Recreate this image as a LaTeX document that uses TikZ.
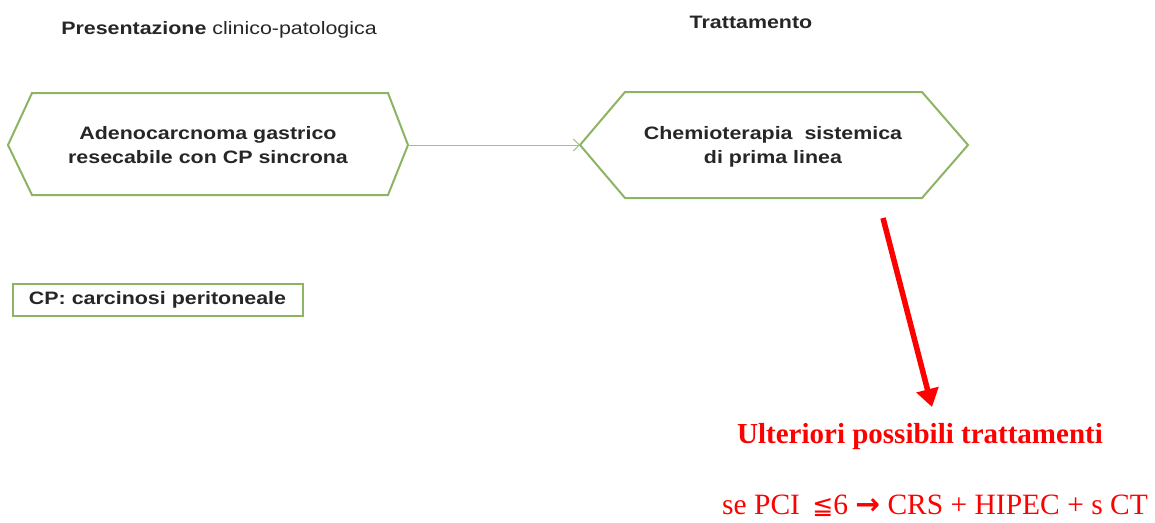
\documentclass[tikz,border=0pt]{standalone}
\usepackage{fontspec}
\setmainfont{Liberation Serif}
\newfontfamily\stsans[FakeStretch=1.19]{Liberation Sans}
\newfontfamily\djv{DejaVu Sans}
\usetikzlibrary{arrows.meta}
\definecolor{boxgreen}{RGB}{140,180,100}
\definecolor{ared}{RGB}{255,0,0}
\begin{document}
\begin{tikzpicture}[x=1pt,y=-1pt,
  hexa/.style={draw=boxgreen,line width=2pt,line join=miter},
  boxtxt/.style={font=\stsans\bfseries\fontsize{18}{24}\selectfont,align=center,text=black!85},
  head/.style={font=\stsans\fontsize{18}{20}\selectfont,text=black!85},
  redtxt/.style={text=ared,font=\fontsize{29.5}{32}\selectfont}]
\useasboundingbox (0,0) rectangle (1155,522);
% headers
\node[head] (h1) at (219,30) {\bfseries Presentazione\mdseries{} clinico-patologica};
\node[head,font=\stsans\bfseries\fontsize{18}{20}\selectfont] (h2) at (751,22) {Trattamento};
% left hexagon
\draw[hexa] (8,145) -- (32,93) -- (388,93) -- (408,145) -- (388,195) -- (32,195) -- cycle;
\coordinate (L) at (408,145);
\node[boxtxt] (t1) at (208,145) {Adenocarcnoma gastrico\\resecabile con CP sincrona};
% right hexagon
\draw[hexa] (580,145) -- (625,92) -- (922,92) -- (968,145) -- (922,198) -- (625,198) -- cycle;
\coordinate (R) at (580,145);
\node[boxtxt] (t2) at (773,147) {Chemioterapia \ sistemica\\di prima linea};
% connector
\draw[boxgreen!80,line width=1pt,-{Straight Barb[length=6pt,width=12pt]}] (L) -- (R);
% CP box
\node[draw=boxgreen,line width=2pt,minimum width=290pt,minimum height=32pt,inner sep=0pt,
  font=\stsans\bfseries\fontsize{18}{20}\selectfont,text=black!85] (cp) at (157.5,299.5) {CP: carcinosi peritoneale};
% red arrow
\coordinate (a1) at (883,218);
\coordinate (a2) at (932,407);
\draw[ared,line width=5.5pt,-{Triangle[length=18pt,width=22pt]}] (a1) -- (a2);
% red texts
\node[redtxt,font=\bfseries\fontsize{29}{32}\selectfont] (u) at (920,437) {Ulteriori possibili trattamenti};
\node[redtxt] (s) at (935,506) {se PCI \,{\djv\fontsize{25}{30}\selectfont ≦}6 {\djv\bfseries →} CRS + HIPEC + s CT};
\end{tikzpicture}
\end{document}
